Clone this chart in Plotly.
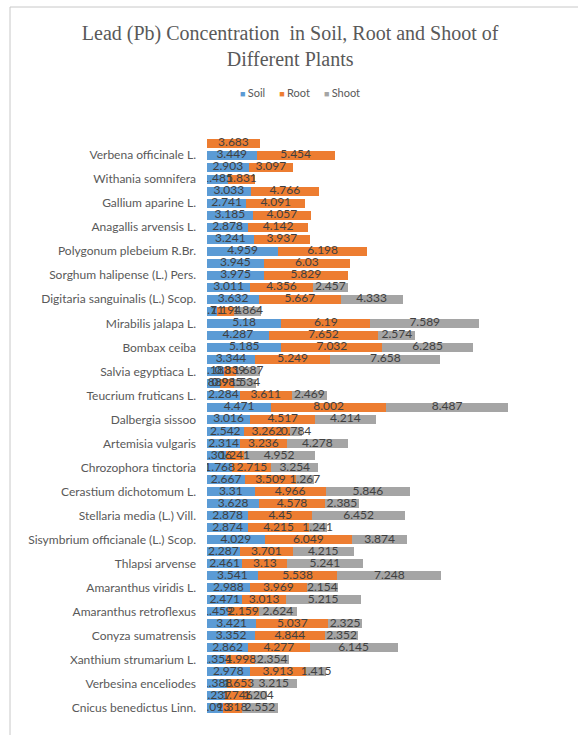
import plotly.graph_objects as go

# Plants, top to bottom; each plant has two rows (upper unlabeled, lower labeled)
plants = [
    "Verbena officinale L.", "Withania somnifera", "Gallium aparine L.",
    "Anagallis arvensis L.", "Polygonum plebeium R.Br.", "Sorghum halipense (L.) Pers.",
    "Digitaria sanguinalis (L.) Scop.", "Mirabilis jalapa L.", "Bombax ceiba",
    "Salvia egyptiaca L.", "Teucrium fruticans L.", "Dalbergia sissoo",
    "Artemisia vulgaris", "Chrozophora tinctoria", "Cerastium dichotomum L.",
    "Stellaria media (L.) Vill.", "Sisymbrium officianale (L.) Scop.", "Thlapsi arvense",
    "Amaranthus viridis L.", "Amaranthus retroflexus", "Conyza sumatrensis",
    "Xanthium strumarium L.", "Verbesina enceliodes", "Cnicus benedictus Linn.",
]

soil = [None, 3.449, 2.903, 1.485, 3.033, 2.741, 3.185, 2.878, 3.241, 4.959, 3.945, 3.975,
        3.011, 3.632, 0.71, 5.18, 4.287, 5.185, 3.344, 1.183, 0.889, 2.284, 4.471, 3.016,
        2.542, 2.314, 1.306, 1.768, 2.667, 3.31, 3.628, 2.878, 2.874, 4.029, 2.287, 2.461,
        3.541, 2.988, 2.471, 1.459, 3.421, 3.352, 2.862, 1.354, 2.978, 1.388, 1.237, 1.093]
root = [3.683, 5.454, 3.097, 1.831, 4.766, 4.091, 4.057, 4.142, 3.937, 6.198, 6.03, 5.829,
        4.356, 5.667, 1.194, 6.19, 7.652, 7.032, 5.249, 0.839, 0.985, 3.611, 8.002, 4.517,
        3.262, 3.236, 1.241, 2.715, 3.509, 4.966, 4.578, 4.45, 4.215, 6.049, 3.701, 3.13,
        5.538, 3.969, 3.013, 2.159, 5.037, 4.844, 4.277, 1.998, 3.913, 1.653, 1.746, 1.318]
shoot = [None] * 12 + [
        2.457, 4.333, 1.864, 7.589, 2.574, 6.285, 7.658, 1.687, 1.534, 2.469, 8.487, 4.214,
        0.784, 4.278, 4.952, 3.254, 1.267, 5.846, 2.385, 6.452, 1.241, 3.874, 4.215, 5.241,
        7.248, 2.154, 5.215, 2.624, 2.325, 2.352, 6.145, 2.354, 1.415, 3.215, 1.204, 2.552]

series = [("Soil", soil, "#5B9BD5"), ("Root", root, "#ED7D31"), ("Shoot", shoot, "#A5A5A5")]

rows = []
for p in plants:
    rows += [p + " |a", p + " |b"]

fig = go.Figure()
base = [0.0] * len(rows)
label_traces = []
for name, vals, color in series:
    fig.add_trace(go.Bar(
        y=rows, x=vals, name=name, orientation="h",
        marker=dict(color=color, line=dict(width=0)),
        hoverinfo="x+name", showlegend=False,
    ))
    xs, ys, ts = [], [], []
    for i, v in enumerate(vals):
        if v is None:
            continue
        xs.append(base[i] + v / 2)
        ys.append(rows[i])
        ts.append(str(v))
        base[i] += v
    label_traces.append(go.Scatter(
        x=xs, y=ys, text=ts, mode="text", showlegend=False, hoverinfo="skip",
        textfont=dict(family="Lato", size=12, color="#404040"),
    ))
for t in label_traces:
    fig.add_trace(t)

L, R, T, B = 207, 12, 137, 21
W, H = 578, 735
pw, ph = W - L - R, H - T - B

# Compact legend line: coloured square followed closely by the series name
NB = "\u00a0"
legend_text = (NB * 5).join(
    f"<span style='color:{c}; font-size:9px'>■{NB}</span>{n}" for n, _, c in series
)

fig.update_layout(
    width=W, height=H,
    margin=dict(l=L, r=R, t=T, b=B),
    barmode="stack", bargap=0.25,
    paper_bgcolor="white", plot_bgcolor="white",
    title=dict(
        text="Lead (Pb) Concentration  in Soil, Root and Shoot of<br>Different Plants",
        xref="container", x=0.502, xanchor="center",
        yref="container", y=0.945, yanchor="top",
        font=dict(family="Liberation Serif", size=20, color="#595959"),
    ),
    annotations=[dict(
        text=legend_text, xref="paper", yref="paper",
        x=(300 - L) / pw, y=(H - B - 93) / ph, xanchor="center", yanchor="middle",
        showarrow=False, font=dict(family="Lato", size=11, color="#595959"),
    )],
    xaxis=dict(range=[0, 25], visible=False, showgrid=False, zeroline=False),
    yaxis=dict(
        type="category", range=[len(rows) - 0.5, -0.5], autorange=False,
        tickmode="array", tickvals=[p + " |b" for p in plants], ticktext=plants,
        ticks="", ticklabelstandoff=10, showgrid=False, zeroline=False, showline=False,
        tickfont=dict(family="Lato", size=12, color="#595959"),
    ),
    shapes=[
        dict(type="line", xref="paper", yref="paper",
             x0=(10 - L) / pw, x1=(W - L) / pw + 0.01,
             y0=(H - B - 7) / ph, y1=(H - B - 7) / ph,
             line=dict(color="#C8C8C8", width=1)),
        dict(type="line", xref="paper", yref="paper",
             x0=(10 - L) / pw, x1=(10 - L) / pw,
             y0=(H - B - 7) / ph, y1=-0.1,
             line=dict(color="#C8C8C8", width=1)),
    ],
)

fig.write_html("out.html")
